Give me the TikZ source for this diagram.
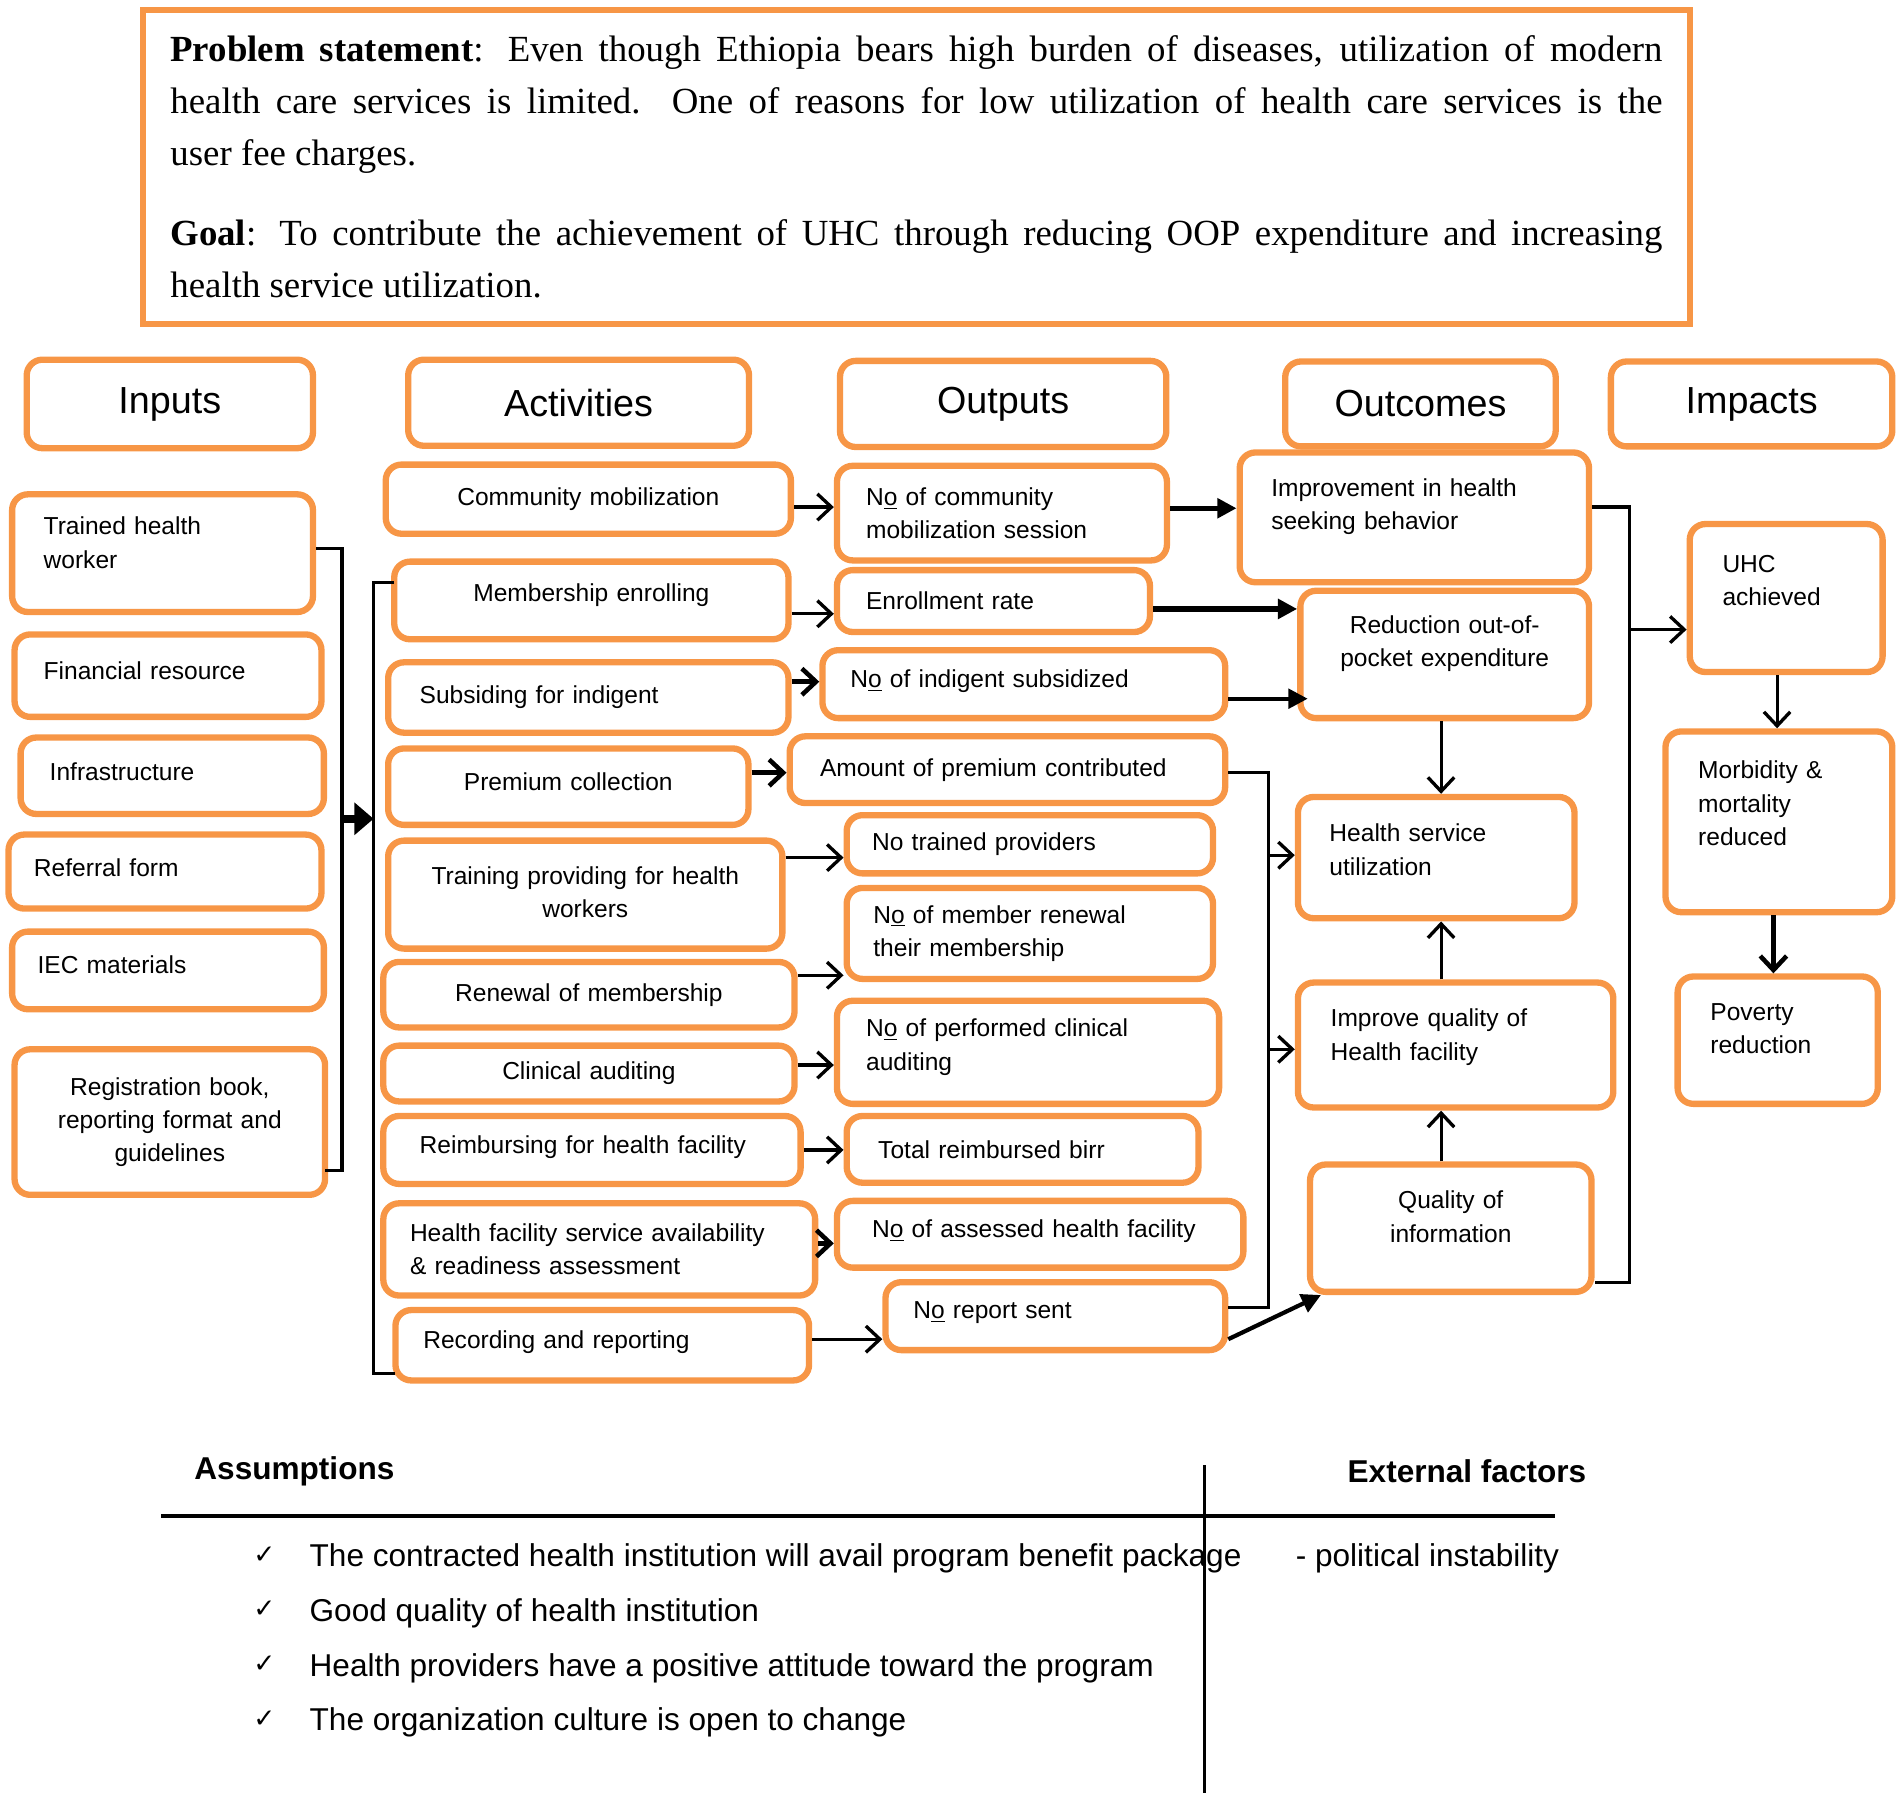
\documentclass[tikz,border=0pt]{standalone}
\usepackage{fontspec}
\setmainfont{Liberation Serif}
\setsansfont{Liberation Sans}
\newfontfamily\symfont{DejaVu Sans}
\usepackage{xcolor}
\usetikzlibrary{arrows.meta}
\definecolor{boxorange}{RGB}{247,150,70}
\newcommand{\pxu}{0.0243cm}
% pushes the text of a box up by half of #1
\newcommand{\lift}[1]{\par\kern#1}

\begin{document}
\begin{tikzpicture}[x=0.0243cm, y=-0.0243cm,
    box/.style={draw=boxorange, line width=3.6pt, rounded corners=9pt, fill=white, inner sep=0pt,
        font=\sffamily\fontsize{14}{19}\selectfont},
    hdr/.style={box, font=\sffamily\fontsize{21.5}{26}\selectfont},
    sz/.style 2 args={minimum width=#1*\pxu, minimum height=#2*\pxu},
    lft/.style={text width=#1*\pxu, align=left},
    ctr/.style={text width=#1*\pxu, align=center},
    wire/.style={line width=1.8pt},
    conn/.style={wire, -{Straight Barb[length=8pt, width=15pt, line width=1.9pt]}},
    tconn/.style={line width=3pt, -{Straight Barb[length=8pt, width=15pt, line width=2.6pt]}},
    fconn/.style={line width=2.4pt, -{Triangle[length=11pt, width=11pt]}},
    bigarr/.style={line width=4.5pt, -{Triangle[length=11pt, width=18pt]}},
    chk/.style={inner sep=0pt, font=\symfont\fontsize{15}{18}\selectfont},
    itm/.style={anchor=west, inner sep=0pt, font=\sffamily\fontsize{18}{22}\selectfont}]
    \useasboundingbox (0,0) rectangle (1568,1483);

    % Problem statement and goal
    \node[box, sharp corners, sz={1275}{259}, text width=1230*\pxu, align=justify,
        font=\rmfamily\fontsize{21}{29.6}\selectfont] (stmt) at (755.5,137.5)
        {\textbf{Problem statement}: Even though Ethiopia bears high burden of diseases, utilization of modern\linebreak
        health care services is limited. One of reasons for low utilization of health care services is the\linebreak
        user fee charges.\par\vspace{16pt}
        \textbf{Goal}: To contribute the achievement of UHC through reducing OOP expenditure and increasing\linebreak
        health service utilization.};

    % Column headers
    \node[hdr, sz={236}{73}] (hIn) at (140,333) {Inputs};
    \node[hdr, sz={281}{71}] (hAct) at (477,332) {Activities};
    \node[hdr, sz={269}{71}] (hOut) at (827,333) {Outputs};
    \node[hdr, sz={223}{70}] (hOutc) at (1171,333) {Outcomes};
    \node[hdr, sz={232}{70}] (hImp) at (1444,333) {Impacts};

    % Inputs
    \node[box, sz={248}{97}, lft=196] (thw) at (134,456) {Trained health\\worker\lift{12pt}};
    \node[box, sz={253}{68}, lft=205] (fin) at (138.5,557) {Financial resource\lift{6pt}};
    \node[box, sz={250}{63}, lft=202] (infra) at (142,639.5) {Infrastructure\lift{4pt}};
    \node[box, sz={258}{61}, lft=216] (ref) at (136,718.5) {Referral form\lift{4pt}};
    \node[box, sz={257}{64}, lft=215] (iec) at (138.5,800) {IEC materials\lift{6pt}};
    \node[box, sz={256}{120}, ctr=256] (reg) at (140,925) {Registration book,\\reporting format and\\guidelines};

    % Activities
    \node[box, sz={334}{57}, ctr=334] (cm) at (485,411.5) {Community mobilization};
    \node[box, sz={325}{64}, ctr=325] (me) at (487.5,495) {Membership enrolling\lift{6pt}};
    \node[box, sz={330}{58}, lft=278] (sub) at (485,575) {Subsiding for indigent};
    \node[box, sz={297}{63}, ctr=297] (pc) at (468.5,648.5) {Premium collection\lift{6pt}};
    \node[box, sz={325}{89}, ctr=325] (tp) at (482.5,737.5) {Training providing for health\\workers\lift{3pt}};
    \node[box, sz={339}{54}, ctr=339] (rm) at (485.5,820) {Renewal of membership};
    \node[box, sz={339}{46}, ctr=339] (ca) at (485.5,885) {Clinical auditing};
    \node[box, sz={344}{56}, lft=284] (rb) at (488,948) {Reimbursing for health facility\lift{3pt}};
    \node[box, sz={356}{76}, lft=312] (hf) at (494,1030) {Health facility service availability\\\& readiness assessment};
    \node[box, sz={341}{58}, lft=295] (rr) at (496.5,1109) {Recording and reporting\lift{3pt}};

    % Outputs
    \node[box, sz={272}{78}, lft=224] (ocm) at (826,423) {N\underline{o} of community\\mobilization session};
    \node[box, sz={258}{51}, lft=210] (oer) at (819,495.5) {Enrollment rate};
    \node[box, sz={332}{56}, lft=286] (ois) at (844,564) {N\underline{o} of indigent subsidized\lift{3pt}};
    \node[box, sz={359}{55}, lft=309] (oap) at (830.5,634.5) {Amount of premium contributed};
    \node[box, sz={302}{48}, lft=260] (otp) at (849,696) {No trained providers};
    \node[box, sz={302}{75}, lft=258] (omr) at (849,769.5) {N\underline{o} of member renewal\\their membership};
    \node[box, sz={315}{85}, lft=267] (opc) at (847.5,867.5) {N\underline{o} of performed clinical\\auditing\lift{6pt}};
    \node[box, sz={290}{55}, lft=238] (otr) at (843,947.5) {Total reimbursed birr};
    \node[box, sz={335}{55}, lft=277] (oah) at (857.5,1017.5) {N\underline{o} of assessed health facility\lift{3pt}};
    \node[box, sz={280}{56}, lft=234] (ors) at (870,1085) {N\underline{o} report sent\lift{4pt}};

    % Outcomes
    \node[box, sz={288}{107}, lft=236] (oih) at (1166,426.5) {Improvement in health\\seeking behavior\lift{12pt}};
    \node[box, sz={238}{105}, ctr=238] (orp) at (1191,539.5) {Reduction out-of-\\pocket expenditure\lift{12pt}};
    \node[box, sz={228}{100}, lft=176] (ohs) at (1184,707) {Health service\\utilization\lift{9pt}};
    \node[box, sz={260}{103}, lft=206] (oiq) at (1200,861.5) {Improve quality of\\Health facility\lift{9pt}};
    \node[box, sz={232}{105}, ctr=232] (oqi) at (1196,1012.5) {Quality of\\information\lift{13pt}};

    % Impacts
    \node[box, sz={159}{122}, lft=105] (iuhc) at (1472.5,493) {UHC\\achieved\lift{20pt}};
    \node[box, sz={187}{149}, lft=133] (imm) at (1466.5,677.5) {Morbidity \&\\mortality\\reduced\lift{21pt}};
    \node[box, sz={165}{105}, lft=111] (ipr) at (1465.5,857.5) {Poverty\\reduction\lift{13pt}};

    % Inputs to activities
    \coordinate (inbus) at (282,675);
    \coordinate (actbus) at (308,675);
    \coordinate (regout) at (268,965);
    \coordinate (meIn) at (325,480);
    \coordinate (rrIn) at (326,1132);
    \draw[wire] (thw.east |- 0,452) -| (inbus) |- (regout);
    \draw[wire] (meIn) -| (actbus) |- (rrIn);
    \draw[bigarr] (inbus) -- (actbus);

    % Activities to outputs
    \draw[conn] (cm.east |- 0,418) -- (ocm.west |- 0,418);
    \draw[conn] (me.east |- 0,506) -- (oer.west |- 0,506);
    \draw[tconn] (sub.east |- 0,562) -- (ois.west |- 0,562);
    \draw[tconn] (pc.east |- 0,637) -- (oap.west |- 0,637);
    \draw[conn] (tp.east |- 0,707) -- (otp.west |- 0,707);
    \draw[conn] (rm.east |- 0,804) -- (omr.west |- 0,804);
    \draw[conn] (ca.east |- 0,878) -- (opc.west |- 0,878);
    \draw[conn] (rb.east |- 0,948) -- (otr.west |- 0,948);
    \draw[tconn] (hf.east |- 0,1025) -- (oah.west |- 0,1025);
    \draw[conn] (rr.east |- 0,1104) -- (ors.west |- 0,1104);

    % Outputs to outcomes
    \draw[fconn, line width=3pt] (ocm.east |- 0,419) -- (oih.west |- 0,419);
    \draw[fconn, line width=3.4pt] (oer.east |- 0,502) -- (orp.west |- 0,502);
    \draw[fconn] (ois.east |- 0,576) -- ([xshift=6pt]orp.west |- 0,576);
    \coordinate (obus) at (1046,705);
    \draw[wire] (oap.east |- 0,637) -| (obus) |- (ors.east |- 0,1078);
    \draw[conn] (obus) -- (ohs.west |- obus);
    \draw[conn] (obus |- 0,865) -- (oiq.west |- 0,865);
    \draw[fconn] (ors.east |- 0,1104) -- ([xshift=8pt]oqi.south west);

    % Between outcomes
    \draw[conn] (orp.south -| 1188,0) -- (ohs.north -| 1188,0);
    \draw[conn] (oiq.north -| 1188,0) -- (ohs.south -| 1188,0);
    \draw[conn] (oqi.north -| 1188,0) -- (oiq.south -| 1188,0);

    % Outcomes to impacts
    \coordinate (cbus) at (1343,519);
    \draw[wire] (oih.east |- 0,418) -| (cbus) |- (oqi.east |- 0,1057);
    \draw[conn] (cbus) -- (iuhc.west |- cbus);
    \draw[conn] (iuhc.south -| 1465,0) -- (imm.north -| 1465,0);
    \draw[tconn] (imm.south -| 1462,0) -- (ipr.north -| 1462,0);

    % Assumptions and external factors
    \node[inner sep=0pt, anchor=west, font=\sffamily\bfseries\fontsize{18}{22}\selectfont] (asm) at (160,1213) {Assumptions};
    \node[inner sep=0pt, anchor=east, font=\sffamily\bfseries\fontsize{18}{22}\selectfont] (ext) at (1308,1213) {External factors};
    \draw[line width=2.4pt] (133,1250) -- (1282,1250);
    \draw[line width=1.8pt] (993,1208) -- (993,1478);
    \node[chk] (k1) at (218,1282) {✓};
    \node[chk] (k2) at (218,1327) {✓};
    \node[chk] (k3) at (218,1372) {✓};
    \node[chk] (k4) at (218,1417) {✓};
    \node[itm] (a1) at (255,1285) {The contracted health institution will avail program benefit package};
    \node[itm] (a2) at (255,1330) {Good quality of health institution};
    \node[itm] (a3) at (255,1375) {Health providers have a positive attitude toward the program};
    \node[itm] (a4) at (255,1420) {The organization culture is open to change};
    \node[itm] (x1) at (1068,1285) {- political instability};
\end{tikzpicture}
\end{document}
